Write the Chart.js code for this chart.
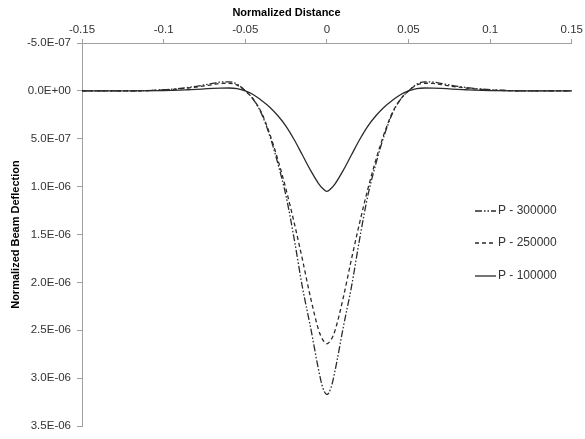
<!DOCTYPE html>
<html>
<head>
<meta charset="utf-8">
<script src="https://cdn.jsdelivr.net/npm/chart.js@4.4.1/dist/chart.umd.min.js"></script>
<style>
  body { margin: 0; background: #fff; }
  canvas { display: block; }
</style>
</head>
<body>
<canvas id="beam-chart" width="585" height="439"></canvas>
<script>
//data (deflection values in units of 1E-06)
const distance = [-0.15, -0.12, -0.1, -0.095, -0.09, -0.085, -0.08, -0.075, -0.07, -0.065, -0.06, -0.055,
  -0.05, -0.045, -0.04, -0.035, -0.03, -0.025, -0.02, -0.015, -0.01, -0.005, -0.0025, 0,
  0.0025, 0.005, 0.01, 0.015, 0.02, 0.025, 0.03, 0.035, 0.04, 0.045, 0.05,
  0.055, 0.06, 0.065, 0.07, 0.075, 0.08, 0.085, 0.09, 0.095, 0.1, 0.12, 0.15];

const p300000 = [0, 0, -0.012, -0.018, -0.026, -0.036, -0.048, -0.062, -0.078, -0.092, -0.095, -0.07,
  0.0, 0.09, 0.24, 0.47, 0.76, 1.1, 1.55, 2.05, 2.47, 2.92, 3.1, 3.17,
  3.1, 2.92, 2.47, 2.05, 1.55, 1.1, 0.76, 0.47, 0.24, 0.09, 0.0,
  -0.07, -0.095, -0.092, -0.078, -0.062, -0.048, -0.036, -0.026, -0.018, -0.012, 0, 0];

const p250000 = [0, 0, -0.01, -0.015, -0.022, -0.03, -0.04, -0.052, -0.065, -0.078, -0.08, -0.06,
  0.0, 0.09, 0.23, 0.45, 0.72, 1.03, 1.38, 1.76, 2.16, 2.5, 2.6, 2.64,
  2.6, 2.5, 2.16, 1.76, 1.38, 1.03, 0.72, 0.45, 0.23, 0.09, 0.0,
  -0.06, -0.08, -0.078, -0.065, -0.052, -0.04, -0.03, -0.022, -0.015, -0.01, 0, 0];

const p100000 = [0, 0, -0.003, -0.005, -0.008, -0.012, -0.016, -0.021, -0.026, -0.029, -0.03, -0.024,
  0.0, 0.04, 0.1, 0.17, 0.26, 0.37, 0.51, 0.67, 0.83, 0.97, 1.02, 1.05,
  1.02, 0.97, 0.83, 0.67, 0.51, 0.37, 0.26, 0.17, 0.1, 0.04, 0.0,
  -0.024, -0.03, -0.029, -0.026, -0.021, -0.016, -0.012, -0.008, -0.005, -0.003, 0, 0];

const seriesNames = ['P - 300000', 'P - 250000', 'P - 100000'];
const xTicks = [-0.15, -0.1, -0.05, 0, 0.05, 0.1, 0.15];
const yTicks = [-5e-7, 0, 5e-7, 1e-6, 1.5e-6, 2e-6, 2.5e-6, 3e-6, 3.5e-6];
const unit = 1e-6;


//build the points for one series
function points(values) {
  return distance.map((x, i) => ({ x: x, y: values[i] * unit }));
}

//excel style scientific label, e.g. 5.0E-07
function sciLabel(v) {
  if (Math.abs(v) < 1e-12) return '0.0E+00';
  const parts = v.toExponential(1).split('e');
  const n = parseInt(parts[1]);
  return parts[0] + 'E' + (n < 0 ? '-' : '+') + String(Math.abs(n)).padStart(2, '0');
}

//legend drawn inside the plot, on the right
const insideLegend = {
  id: 'insideLegend',
  afterDraw(chart) {
    const ctx = chart.ctx;
    const rows = [211, 243, 276];
    ctx.save();
    chart.data.datasets.forEach((ds, i) => {
      const y = rows[i];
      ctx.strokeStyle = ds.borderColor;
      ctx.lineWidth = ds.borderWidth;
      ctx.setLineDash(ds.borderDash || []);
      ctx.beginPath();
      ctx.moveTo(475, y);
      ctx.lineTo(496, y);
      ctx.stroke();
      ctx.setLineDash([]);
      ctx.fillStyle = '#333';
      ctx.font = '12px "Liberation Sans", Arial, sans-serif';
      ctx.textBaseline = 'middle';
      ctx.fillText(ds.label, 498, y);
    });
    ctx.restore();
  }
};

const lineStyle = {
  showLine: true,
  pointRadius: 0,
  borderColor: '#2b2b2b',
  borderWidth: 1.3,
  fill: false,
  cubicInterpolationMode: 'monotone'
};

const chart_elem = document.getElementById('beam-chart');
const main_chart = new Chart(chart_elem, {
  type: 'scatter',
  data: {
    datasets: [
      Object.assign({ label: seriesNames[0], data: points(p300000), borderDash: [7, 2, 1.5, 2, 1.5, 2] }, lineStyle),
      Object.assign({ label: seriesNames[1], data: points(p250000), borderDash: [4, 3] }, lineStyle),
      Object.assign({ label: seriesNames[2], data: points(p100000), borderDash: [] }, lineStyle)
    ]
  },
  plugins: [insideLegend],
  options: {
    responsive: false,
    animation: false,
    layout: { padding: { left: 0, right: 12, top: 0, bottom: 11 } },
    plugins: {
      legend: { display: false },
      tooltip: { enabled: false },
      title: {
        display: true,
        text: 'Normalized Distance',
        color: '#000',
        font: { family: '"Liberation Sans", Arial, sans-serif', size: 11, weight: 'bold' },
        padding: { top: 6, bottom: 0 }
      }
    },
    scales: {
      x: {
        type: 'linear',
        position: 'top',
        min: -0.15,
        max: 0.15,
        afterBuildTicks: (scale) => { scale.ticks = xTicks.map(v => ({ value: v })); },
        afterFit: (scale) => { scale.height = 23.8; },
        ticks: {
          color: '#333',
          font: { family: '"Liberation Sans", Arial, sans-serif', size: 11.5 },
          padding: 2,
          maxRotation: 0,
          callback: (v) => String(+Number(v).toFixed(2))
        },
        grid: { drawOnChartArea: false, color: '#a0a0a0', tickLength: 4 },
        border: { color: '#a0a0a0' }
      },
      y: {
        type: 'linear',
        reverse: true,
        min: -5e-7,
        max: 3.5e-6,
        afterBuildTicks: (scale) => { scale.ticks = yTicks.map(v => ({ value: v })); },
        afterFit: (scale) => { scale.width = 82; },
        title: {
          display: true,
          text: 'Normalized Beam Deflection',
          color: '#000',
          font: { family: '"Liberation Sans", Arial, sans-serif', size: 11, weight: 'bold' },
          padding: { top: 9, bottom: 0 }
        },
        ticks: {
          color: '#333',
          font: { family: '"Liberation Sans", Arial, sans-serif', size: 11.5 },
          padding: 6,
          callback: (v) => sciLabel(v)
        },
        grid: { drawOnChartArea: false, color: '#a0a0a0', tickLength: 5 },
        border: { color: '#a0a0a0' }
      }
    }
  }
});
</script>
</body>
</html>
